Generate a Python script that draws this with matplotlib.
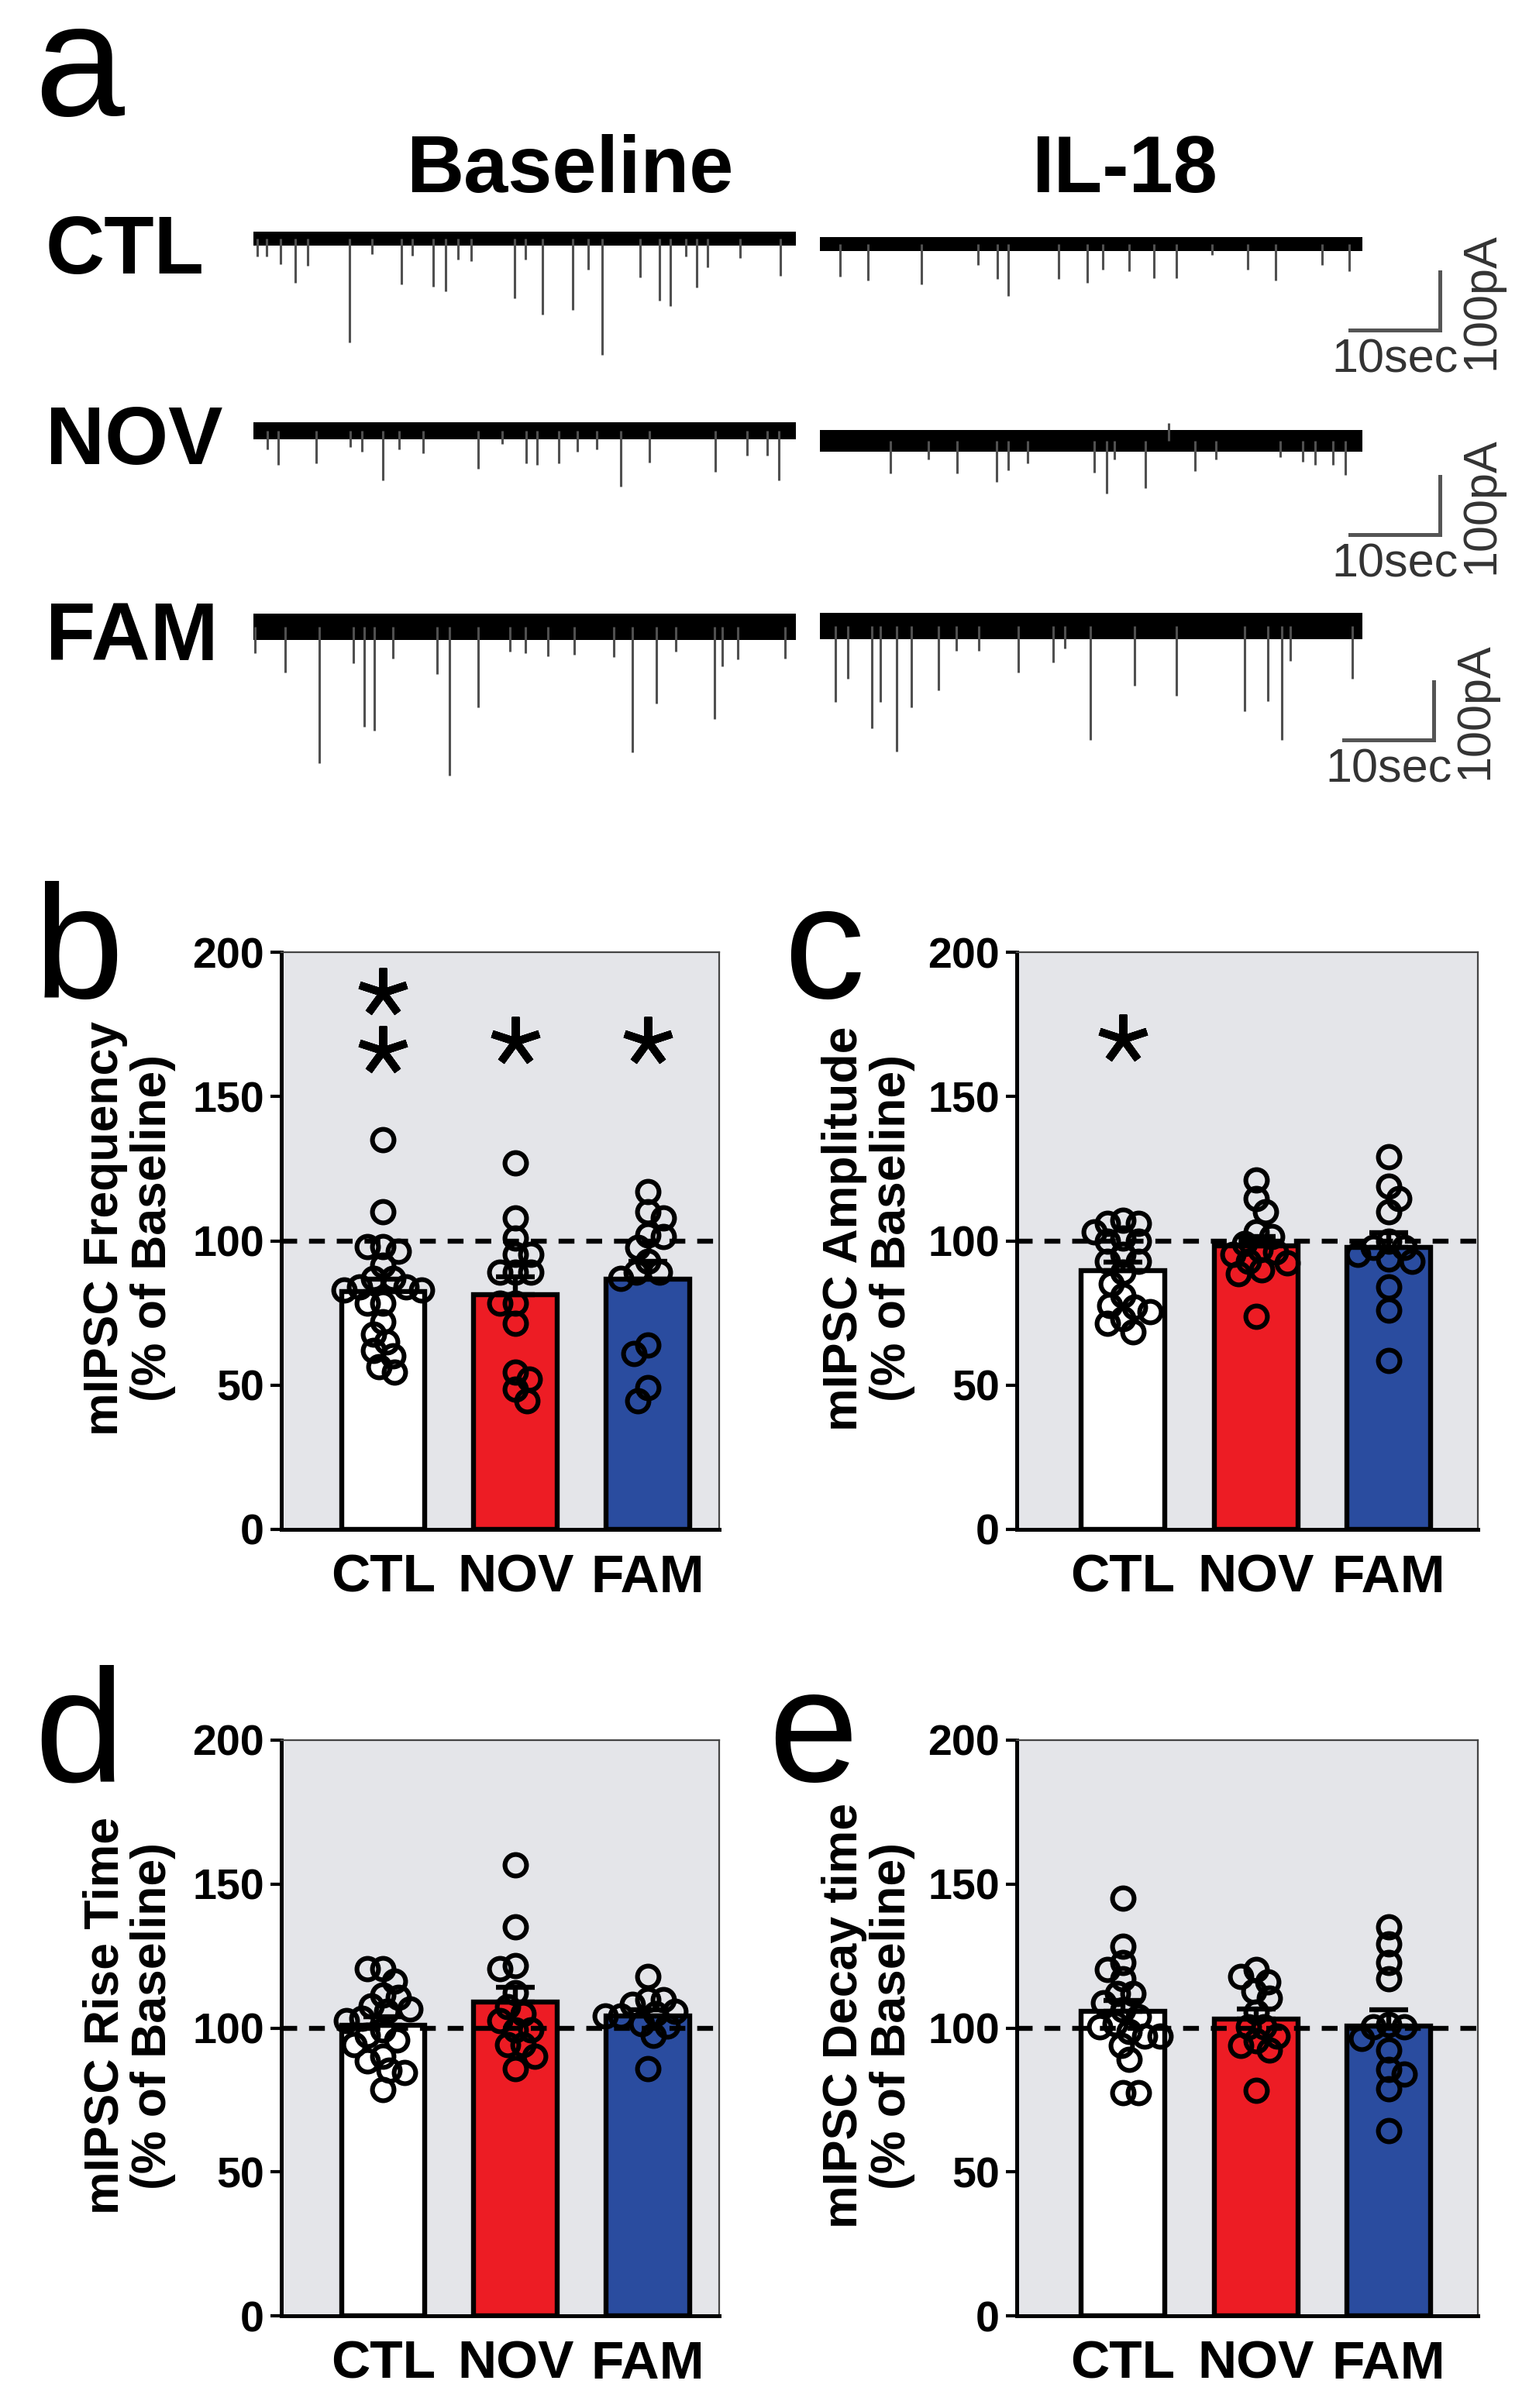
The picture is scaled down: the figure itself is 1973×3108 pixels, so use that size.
import numpy as np
import matplotlib
matplotlib.use("Agg")
import matplotlib.pyplot as plt

plt.rcParams['font.family'] = ['Liberation Sans', 'DejaVu Sans']

W, H = 1974, 3108
DPI = 200

groups = ["CTL", "NOV", "FAM"]
bar_colors = ["#ffffff", "#ed1c24", "#2a4c9f"]

# ---- panels b-e: % of baseline, per cell ----
freq_ctl = [135, 110, 96.5, 98, 98, 91.5, 87, 87, 83, 84, 84, 83, 78.5, 78.5,
            72, 67.7, 65, 62, 60, 56.5, 54.6]
freq_nov = [127, 108, 101, 95.4, 95.4, 89, 89, 89, 78.5, 78.5, 71.5, 54.6, 52,
            48.5, 44.6]
freq_fam = [117, 110, 108, 101.5, 102, 97.7, 93, 89, 89, 87, 64, 61, 49, 44.6]

amp_ctl = [100, 106, 107, 106, 103, 101, 100, 95.4, 93, 93, 89, 85, 81, 77.7,
           75.4, 77, 73, 71.5, 68.5]
amp_nov = [121, 114.6, 110, 103, 101.5, 99, 97, 96, 95.4, 93, 92.3, 90, 88.5, 73.8]
amp_fam = [129, 119, 114.6, 110, 100, 97.7, 97.7, 95.4, 93.8, 93, 84, 76, 58.5]

rise_ctl = [120.5, 120.5, 116.4, 111.5, 110.7, 107.7, 106.6, 105.7, 103.3, 102.5,
            99.2, 97.5, 95.9, 94.3, 90.2, 88.5, 84.4, 85.2, 78.7]
rise_nov = [156.6, 135.2, 121.8, 120.5, 112.3, 107.4, 104.9, 102.5, 99.2, 99.2,
            94.3, 94.3, 90.2, 86]
rise_fam = [118, 109.8, 109.8, 108.2, 105.7, 104.9, 104.1, 104.1, 101.6, 100.8,
            97.5, 86]

decay_ctl = [145, 128.5, 122.7, 120.3, 117, 112, 112, 108.7, 106.3, 103.8, 101.5,
             100.5, 98.8, 97.2, 97.2, 93.9, 89, 77.4, 77.4]
decay_nov = [120.3, 117.8, 116.1, 112.9, 110.4, 105.4, 100.5, 100.5, 97.2, 95.6,
             93.9, 92.3, 78.3]
decay_fam = [135, 129.3, 122.7, 117, 100.5, 100.5, 101.3, 96.4, 92.3, 85.7, 84,
             79, 64.3]

# significance stars (y positions in % of baseline)
stars_freq = {"CTL": [186, 166], "NOV": [169], "FAM": [169]}
stars_amp = {"CTL": [170]}

# ---- panel a: mIPSC events, time (s) and amplitude (pA) ----
ctl_base_t = [0.4, 1.45, 3.0, 4.6, 6.0, 10.6, 13.1, 16.4, 17.6, 19.9, 21.3, 22.6,
              24.1, 28.9, 30.1, 32.0, 35.3, 37.0, 38.6, 42.8, 44.9, 46.1, 47.8,
              49.0, 50.2, 53.8, 58.3]
ctl_base_a = [31, 31, 44, 76, 47, 178, 27, 78, 29, 82, 91, 36, 38, 102, 36, 131,
              122, 53, 200, 67, 107, 116, 31, 84, 49, 33, 64]
ctl_il18_t = [2.2, 5.3, 11.2, 17.5, 19.6, 20.8, 26.4, 29.6, 31.3, 34.2, 36.9,
              39.4, 43.4, 47.3, 50.4, 55.5, 58.5]
ctl_il18_a = [56, 62, 69, 36, 60, 89, 60, 67, 44, 47, 58, 58, 18, 44, 62, 36, 47]

nov_base_t = [1.5, 2.7, 6.9, 10.7, 12.0, 14.3, 16.1, 18.8, 24.9, 27.5, 30.2,
              31.4, 33.8, 35.8, 38.0, 40.6, 43.8, 51.1, 54.6, 56.8, 58.1]
nov_base_a = [32, 59, 56, 28, 36, 85, 32, 39, 65, 23, 56, 59, 56, 36, 32, 96, 54,
              70, 43, 43, 85]
nov_il18_t = [7.8, 12.0, 15.2, 19.5, 20.8, 23.0, 30.3, 31.7, 32.6, 36.0, 38.6,
              41.5, 43.8, 50.9, 53.4, 54.8, 56.7, 58.1]
nov_il18_a = [56, 32, 56, 70, 50, 39, 54, 90, 32, 81, -31, 52, 32, 28, 36, 41,
              41, 59]

fam_base_t = [0.2, 3.5, 7.3, 11.1, 12.3, 13.4, 15.4, 20.3, 21.7, 24.9, 28.4,
              30.1, 32.6, 35.5, 39.9, 41.9, 44.6, 46.7, 51.0, 51.9, 53.6, 58.8]
fam_base_a = [45, 79, 234, 63, 172, 179, 54, 81, 256, 139, 43, 45, 50, 48, 52,
              216, 132, 43, 159, 68, 56, 54]
fam_il18_t = [1.7, 3.1, 5.7, 6.7, 8.5, 10.1, 13.1, 15.1, 17.6, 21.9, 25.8, 27.1,
              29.9, 34.8, 39.4, 47.0, 49.5, 51.1, 52.0, 58.9]
fam_il18_a = [131, 91, 176, 131, 216, 140, 111, 42, 42, 80, 62, 38, 196, 102,
              120, 147, 129, 196, 60, 91]

# baseline noise band (pA, peak to peak)
noise_pa = {"CTL": [24, 24], "NOV": [30, 38], "FAM": [46, 46]}


def px_rect(x0, y0, x1, y1):
    return [x0 / W, 1 - y1 / H, (x1 - x0) / W, (y1 - y0) / H]


fig = plt.figure(figsize=(W / DPI, H / DPI), dpi=DPI)


def fig_text(x, y, s, **kw):
    fig.text(x / W, 1 - y / H, s, **kw)


# ================= panel a =================
fig_text(44, 149, "a", fontsize=75, ha='left', va='baseline')
fig_text(735, 248, "Baseline", fontsize=37, fontweight='bold', ha='center', va='baseline')
fig_text(1451, 248, "IL-18", fontsize=37, fontweight='bold', ha='center', va='baseline')

PX_S = 700 / 60.0
PX_PA = 0.75
col_x = [327, 1058]
row_centers = {"CTL": [308, 315], "NOV": [556, 569], "FAM": [809, 808]}
row_label_base = {"CTL": 353, "NOV": 599, "FAM": 852}
events = {
    "CTL": [(ctl_base_t, ctl_base_a), (ctl_il18_t, ctl_il18_a)],
    "NOV": [(nov_base_t, nov_base_a), (nov_il18_t, nov_il18_a)],
    "FAM": [(fam_base_t, fam_base_a), (fam_il18_t, fam_il18_a)],
}
scalebar = {"CTL": (58.6, -148), "NOV": (58.6, -161), "FAM": (57.9, -196)}

for g in groups:
    fig_text(59, row_label_base[g], g, fontsize=38, fontweight='bold', ha='left', va='baseline')
    for c in range(2):
        yc = row_centers[g][c]
        ax = fig.add_axes(px_rect(col_x[c], yc - 60 * PX_PA, col_x[c] + 700, yc + 265 * PX_PA))
        ax.set_xlim(0, 60)
        ax.set_ylim(-265, 60)
        ax.axis('off')
        nz = noise_pa[g][c] / 2
        ax.fill_between([0, 60], -nz, nz, color='black', lw=0)
        t, a = events[g][c]
        ax.vlines(t, -np.asarray(a), 0, color='#505050', lw=1.1)
        if c == 1:
            t0, y0 = scalebar[g]
            ax.plot([t0, t0 + 10, t0 + 10], [y0, y0, y0 + 100], color='#555555',
                    lw=1.8, clip_on=False, solid_joinstyle='miter')
            ax.text(t0 + 5, y0 - 52, "10sec", ha='center', va='center', fontsize=22,
                    color='#333333', clip_on=False)
            ax.text(t0 + 14.6, y0 + 50, "100pA", ha='center', va='center', rotation=90,
                    fontsize=22, color='#333333', clip_on=False)

# ================= panels b-e =================
BAR_W = 0.63


def swarm(vals, px_x, px_y, d=20.0):
    vals = np.asarray(vals, float)
    ypx = vals * px_y
    order = np.argsort(-vals)
    placed = []
    offs = np.zeros(len(vals))
    step = d / 8
    for n, i in enumerate(order):
        found = None
        for k in range(400):
            if k == 0:
                cands = [0.0]
            elif n % 2 == 0:
                cands = [k * step, -k * step]
            else:
                cands = [-k * step, k * step]
            for cx in cands:
                if all((cx - px) ** 2 + (ypx[i] - py) ** 2 >= d * d for px, py in placed):
                    found = cx
                    break
            if found is not None:
                break
        placed.append((found, ypx[i]))
        offs[i] = found / px_x
    return offs


panels = [
    ("b", [freq_ctl, freq_nov, freq_fam], "mIPSC Frequency", (363, 1229, 928, 1974),
     (-0.77, 2.54), (44, 1288), (136, 198), stars_freq),
    ("c", [amp_ctl, amp_nov, amp_fam], "mIPSC Amplitude", (1312, 1229, 1907, 1974),
     (-0.80, 2.67), (1011, 1288), (1090, 1152), stars_amp),
    ("d", [rise_ctl, rise_nov, rise_fam], "mIPSC Rise Time", (363, 2246, 928, 2989),
     (-0.77, 2.54), (44, 2299), (136, 198), {}),
    ("e", [decay_ctl, decay_nov, decay_fam], "mIPSC Decay time", (1312, 2246, 1907, 2989),
     (-0.80, 2.67), (991, 2299), (1090, 1152), {}),
]

for letter, data, ylab, r, xlim, lpos, ylx, stars in panels:
    ax = fig.add_axes(px_rect(*r))
    ax.set_facecolor('#e4e5e9')
    px_x = (r[2] - r[0]) / (xlim[1] - xlim[0])
    px_y = (r[3] - r[1]) / 200.0
    x = np.arange(3)
    means = np.array([np.mean(v) for v in data])
    sems = np.array([np.std(v, ddof=1) / np.sqrt(len(v)) for v in data])
    ax.bar(x, means, width=BAR_W, color=bar_colors, edgecolor='black', linewidth=2.3, zorder=2)
    ax.axhline(100, color='black', lw=2.3, dashes=(3.2, 2.4), zorder=3)
    ax.errorbar(x, means, yerr=[np.zeros(3), sems], fmt='none', ecolor='black',
                elinewidth=2.3, capsize=9, capthick=2.3, zorder=4)
    for i, v in enumerate(data):
        offs = swarm(v, px_x, px_y)
        ax.plot(i + offs, v, 'o', mfc='none', mec='black', ms=10, mew=2.2,
                ls='none', zorder=5)
    for g, ys in stars.items():
        i = groups.index(g)
        ax.plot([i] * len(ys), ys, marker=(5, 2, 0), ms=23, mew=3.6, color='black',
                ls='none', zorder=6)

    ax.set_xlim(*xlim)
    ax.set_ylim(0, 200)
    ax.set_yticks([0, 50, 100, 150, 200])
    ax.set_yticklabels(["0", "50", "100", "150", "200"], fontweight='bold', fontsize=20)
    ax.set_xticks(x)
    ax.set_xticklabels(groups, fontweight='bold', fontsize=25)
    ax.tick_params(axis='y', length=5, width=1.5, pad=3)
    ax.tick_params(axis='x', length=0, pad=11)
    for s in ['left', 'bottom']:
        ax.spines[s].set_linewidth(1.8)
    for s in ['top', 'right']:
        ax.spines[s].set_linewidth(0.8)
        ax.spines[s].set_color('#444444')

    fig_text(lpos[0], lpos[1], letter, fontsize=75, ha='left', va='baseline')
    ymid = (r[1] + r[3]) / 2 - 16
    fig_text(ylx[0], ymid, ylab, fontsize=22.5, fontweight='bold', rotation=90,
             ha='center', va='center')
    fig_text(ylx[1], ymid, "(% of Baseline)", fontsize=22.5, fontweight='bold', rotation=90,
             ha='center', va='center')

fig.savefig("out.png", dpi=DPI)
